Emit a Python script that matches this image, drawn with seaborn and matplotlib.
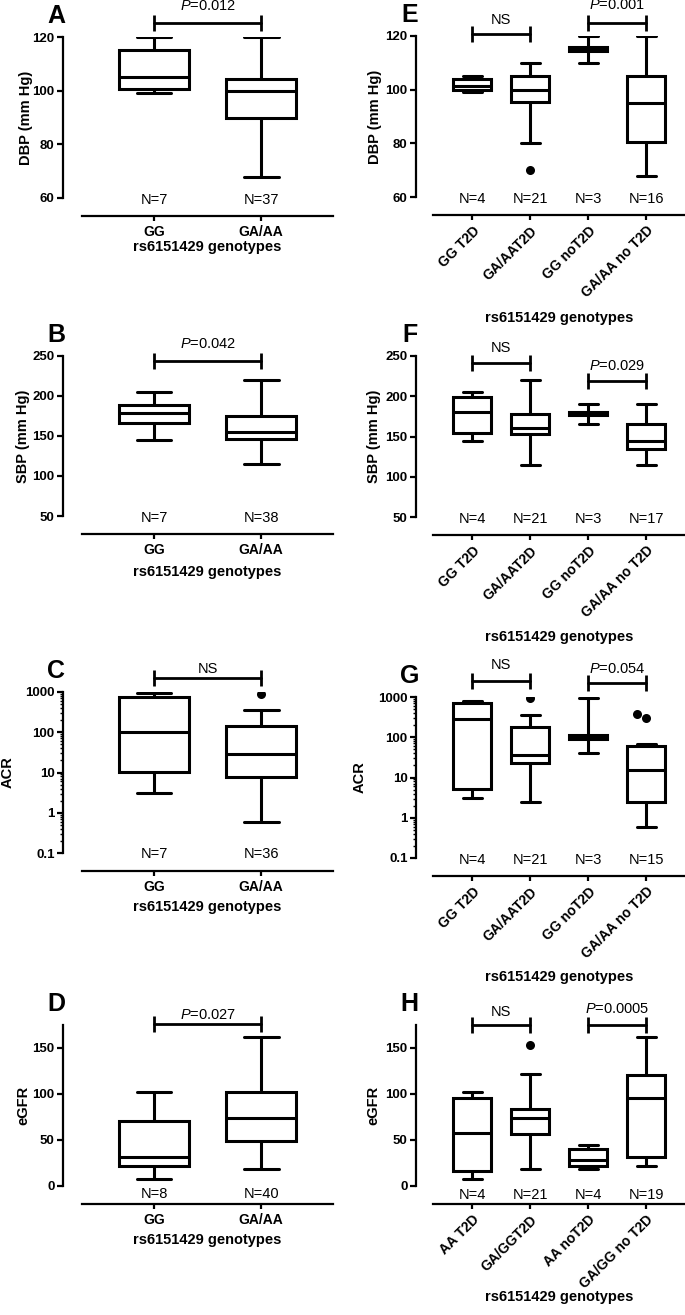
import numpy as np
import pandas as pd
import matplotlib
matplotlib.use("Agg")
import matplotlib.pyplot as plt
from matplotlib.ticker import NullFormatter
import seaborn as sns

# ---------------------------------------------------------------------------
# data
# ---------------------------------------------------------------------------
GENO_2 = ["GG", "GA/AA"]
GENO_T2D = ["GG T2D", "GA/AAT2D", "GG noT2D", "GA/AA no T2D"]
GENO_T2D_H = ["AA T2D", "GA/GGT2D", "AA noT2D", "GA/GG no T2D"]

# box summaries: (min, q1, median, q3, max)
DBP_ALL = [[99, 100.5, 105, 115, 120], [68, 90, 100, 104.5, 120]]
SBP_ALL = [[145, 166, 179, 189, 205], [115, 146, 155, 175, 220]]
ACR_ALL = [[3.1, 10.5, 100, 740, 950], [0.6, 7.9, 29, 140, 365]]
EGFR_ALL = [[8, 22, 32, 71, 102], [18, 49, 74, 102, 162]]

DBP_T2D = [[99, 100, 101.5, 104, 105], [80, 95.5, 100, 105, 110],
           [110, 114.5, 115, 116, 120], [68, 80.5, 95, 105, 120]]
SBP_T2D = [[145, 154, 180, 199, 205], [115, 153, 160, 178, 220],
           [165, 177, 179, 181, 190], [115, 134, 145, 166, 190]]
ACR_T2D = [[3.1, 5.2, 280, 720, 800], [2.4, 23, 37, 180, 350],
           [40, 92, 100, 112, 950], [0.6, 2.4, 15, 62, 68]]
EGFR_T2D = [[8, 16, 58, 96, 102], [18, 57, 74, 84, 122],
            [19, 22, 28, 40, 45], [22, 31, 96, 121, 162]]

# points beyond the whiskers
ACR_ALL_OUT = [("GA/AA", 880)]
DBP_T2D_OUT = [("GA/AAT2D", 70)]
ACR_T2D_OUT = [("GA/AAT2D", 920), ("GA/AA no T2D", 300), ("GA/AA no T2D", 370)]
EGFR_T2D_OUT = [("GA/GGT2D", 153)]

N_DBP_ALL = [7, 37]
N_SBP_ALL = [7, 38]
N_ACR_ALL = [7, 36]
N_EGFR_ALL = [8, 40]
N_DBP_T2D = [4, 21, 3, 16]
N_SBP_T2D = [4, 21, 3, 17]
N_ACR_T2D = [4, 21, 3, 15]
N_EGFR_T2D = [4, 21, 4, 19]

P_DBP_ALL = "0.012"
P_SBP_ALL = "0.042"
P_EGFR_ALL = "0.027"
P_DBP_T2D = "0.001"
P_SBP_T2D = "0.029"
P_ACR_T2D = "0.054"
P_EGFR_T2D = "0.0005"


def p_text(p):
    return r"$\mathit{P}$=" + p


# ---------------------------------------------------------------------------
# style
# ---------------------------------------------------------------------------
sns.set_style("ticks")
plt.rcParams["font.family"] = ["Liberation Sans", "DejaVu Sans"]
plt.rcParams["mathtext.fontset"] = "custom"
plt.rcParams["mathtext.rm"] = "Liberation Sans"
plt.rcParams["mathtext.it"] = "Liberation Sans:italic"
plt.rcParams["axes.linewidth"] = 1.6
for key in ["axes.edgecolor", "xtick.color", "ytick.color", "text.color",
            "axes.labelcolor"]:
    plt.rcParams[key] = "black"

W, H = 685, 1315
COL_X = [(63, 270, -0.85), (416, 269, -0.97)]  # spine x, width px, xlim left

# brackets: (cat i, cat j, y in data, label, text offset px)
PANELS = [
    dict(letter="A", col=0, top=37, bot=198, cats=GENO_2, boxes=DBP_ALL, out=[],
         n=N_DBP_ALL, ylabel="DBP (mm Hg)", ylim=(60, 120), yticks=[60, 80, 100, 120],
         log=False, br=[(0, 1, 125.2, p_text(P_DBP_ALL), 17.5)], n_dy=-1.5,
         xl_y=247, yl_x=37),
    dict(letter="B", col=0, top=356, bot=516, cats=GENO_2, boxes=SBP_ALL, out=[],
         n=N_SBP_ALL, ylabel="SBP (mm Hg)", ylim=(50, 250), yticks=[50, 100, 150, 200, 250],
         log=False, br=[(0, 1, 244, p_text(P_SBP_ALL), 16.5)], n_dy=-1.5,
         xl_y=572, yl_x=40),
    dict(letter="C", col=0, top=692, bot=853, cats=GENO_2, boxes=ACR_ALL, out=ACR_ALL_OUT,
         n=N_ACR_ALL, ylabel="ACR", ylim=(0.1, 1000), yticks=[0.1, 1, 10, 100, 1000],
         log=True, br=[(0, 1, 2200, "NS", 9)], n_dy=-1.5, xl_y=907, yl_x=55),
    dict(letter="D", col=0, top=1025, bot=1186, cats=GENO_2, boxes=EGFR_ALL, out=[],
         n=N_EGFR_ALL, ylabel="eGFR", ylim=(0, 175), yticks=[0, 50, 100, 150],
         log=False, br=[(0, 1, 176, p_text(P_EGFR_ALL), 9.5)], n_dy=-7.5,
         xl_y=1240, yl_x=40),
    dict(letter="E", col=1, top=36, bot=197, cats=GENO_T2D, boxes=DBP_T2D, out=DBP_T2D_OUT,
         n=N_DBP_T2D, ylabel="DBP (mm Hg)", ylim=(60, 120), yticks=[60, 80, 100, 120],
         log=False, br=[(0, 1, 120.7, "NS", 14), (2, 3, 125, p_text(P_DBP_T2D), 17.5)],
         n_dy=-2, xl_y=318, yl_x=41),
    dict(letter="F", col=1, top=356, bot=517, cats=GENO_T2D, boxes=SBP_T2D, out=[],
         n=N_SBP_T2D, ylabel="SBP (mm Hg)", ylim=(50, 250), yticks=[50, 100, 150, 200, 250],
         log=False, br=[(0, 1, 241, "NS", 15), (2, 3, 219, p_text(P_SBP_T2D), 15)],
         n_dy=-2, xl_y=637, yl_x=42),
    dict(letter="G", col=1, top=697, bot=858, cats=GENO_T2D, boxes=ACR_T2D, out=ACR_T2D_OUT,
         n=N_ACR_T2D, ylabel="ACR", ylim=(0.1, 1000), yticks=[0.1, 1, 10, 100, 1000],
         log=True, br=[(0, 1, 2540, "NS", 15.5), (2, 3, 2190, p_text(P_ACR_T2D), 14.5)],
         n_dy=-2, xl_y=977, yl_x=56),
    dict(letter="H", col=1, top=1025, bot=1186, cats=GENO_T2D_H, boxes=EGFR_T2D, out=EGFR_T2D_OUT,
         n=N_EGFR_T2D, ylabel="eGFR", ylim=(0, 175), yticks=[0, 50, 100, 150],
         log=False, br=[(0, 1, 175, "NS", 13.5), (2, 3, 175, p_text(P_EGFR_T2D), 16)],
         n_dy=-9, xl_y=1297, yl_x=43),
]

fig = plt.figure(figsize=(W / 100, H / 100), dpi=100)

for p in PANELS:
    x0, w, xleft = COL_X[p["col"]]
    h = p["bot"] - p["top"]
    ax = fig.add_axes([x0 / W, 1 - p["bot"] / H, w / W, h / H])
    cats = p["cats"]
    n = len(cats)
    logs = True if p["log"] else None

    # five values per group -> quartiles land exactly on the read-off summary
    df = pd.DataFrame({"group": np.repeat(cats, 5),
                       "value": np.concatenate(p["boxes"])})
    sns.boxplot(data=df, x="group", y="value", order=cats, whis=(0, 100),
                width=0.65, color="white", linecolor="black", linewidth=2.2,
                showfliers=False, log_scale=logs, ax=ax)
    if p["out"]:
        odf = pd.DataFrame(p["out"], columns=["group", "value"])
        sns.swarmplot(data=odf, x="group", y="value", order=cats, color="black",
                      size=6.5, log_scale=logs, ax=ax)

    # detached Prism-style x axis (set before tick labels: this resets ticks)
    for s in ["top", "right"]:
        ax.spines[s].set_visible(False)
    ax.spines["bottom"].set_position(("outward", 12.6))
    ax.spines["bottom"].set_bounds(-0.67, n - 1 + 0.67)

    ax.set_xlim(xleft, n - 1 + 0.67)
    ax.set_ylim(*p["ylim"])
    ax.set_yticks(p["yticks"], labels=[f"{t:g}" for t in p["yticks"]])
    if p["log"]:
        ax.yaxis.set_minor_formatter(NullFormatter())
        ax.tick_params(axis="y", which="minor", length=2, width=1.0)
    ax.tick_params(axis="y", which="major", length=4, width=1.6, pad=2,
                   labelsize=9.5)
    ax.tick_params(axis="x", length=3.5, width=1.6, pad=3, labelsize=10)
    ax.set_xticks(range(n), labels=cats)
    for lab in ax.get_yticklabels() + ax.get_xticklabels():
        lab.set_fontweight("bold")
    if n == 4:
        for lab in ax.get_xticklabels():
            lab.set_rotation(45)
            lab.set_ha("right")
            lab.set_rotation_mode("anchor")

    ax.set_ylabel(p["ylabel"], fontsize=10.5, fontweight="bold")
    ax.yaxis.set_label_coords(-p["yl_x"] / w, 0.5)
    ax.yaxis.label.set_va("center")
    ax.set_xlabel("rs6151429 genotypes", fontsize=10.5, fontweight="bold")
    xc = ((n - 1) / 2 - xleft) / (n - 1 + 0.67 - xleft)
    ax.xaxis.set_label_coords(xc, -(p["xl_y"] - p["bot"]) / h)
    ax.xaxis.label.set_va("center")

    # sample sizes along the bottom
    for i, cnt in enumerate(p["n"]):
        ax.annotate(f"N={cnt}", xy=(i, 0), xycoords=("data", "axes fraction"),
                    xytext=(0, p["n_dy"]), textcoords="offset pixels",
                    ha="center", va="center", fontsize=10.5)

    # significance brackets
    for i, j, yb, label, dy in p["br"]:
        ax.plot([i, j], [yb, yb], color="black", lw=2.0, marker="|",
                markersize=11, markeredgewidth=2.0, clip_on=False, zorder=5)
        ax.annotate(label, xy=((i + j) / 2, yb), xytext=(0, dy),
                    textcoords="offset pixels", ha="center", va="center",
                    fontsize=10.5, annotation_clip=False)

    ax.annotate(p["letter"], xy=(0, 1), xycoords="axes fraction",
                xytext=(-6.5, 21), textcoords="offset pixels",
                ha="center", va="center", fontsize=18, fontweight="bold")

fig.savefig("out.png", dpi=100)
